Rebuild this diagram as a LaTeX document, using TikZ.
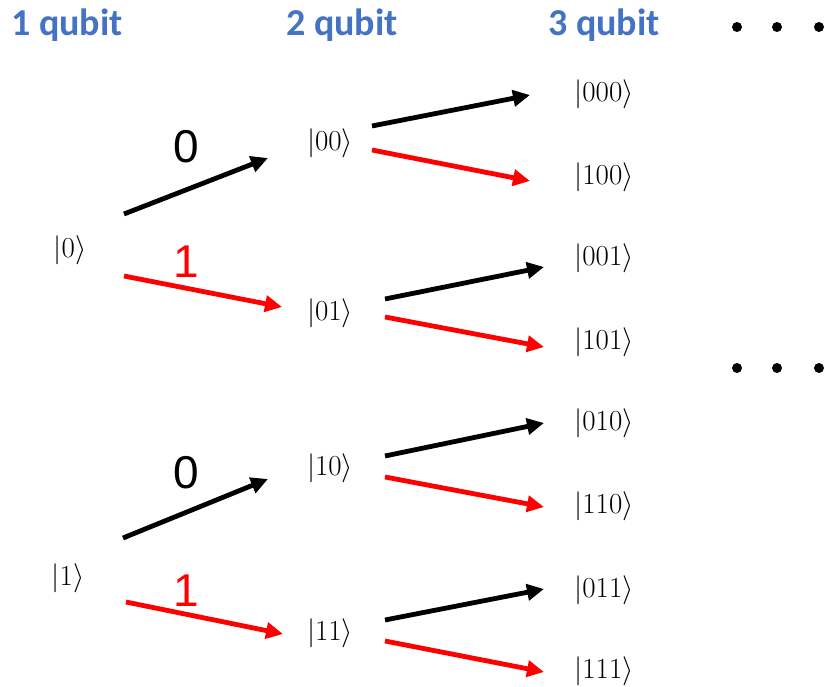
\RequirePackage{fix-cm}
\documentclass[tikz,border=0pt]{standalone}
\usepackage{fontspec}
\usetikzlibrary{arrows.meta}
\newfontfamily\hdrfont{Carlito}
\newfontfamily\lblfont{Liberation Sans}
\definecolor{hdrblue}{RGB}{68,114,196}
\definecolor{arrred}{RGB}{255,0,0}
\tikzset{
  ket/.style={inner sep=0pt, font=\fontsize{29}{34}\selectfont},
  hdr/.style={inner sep=0pt, text=hdrblue, font=\hdrfont\bfseries\fontsize{38}{44}\selectfont},
  bitlbl/.style={inner sep=0pt, font=\lblfont\fontsize{46}{52}\selectfont},
  arr/.style={line width=4.8pt, -{Triangle[length=17pt,width=16pt]}},
  arr0/.style={arr, black},
  arr1/.style={arr, arrred},
  dotmark/.style={circle, fill=black, inner sep=0pt, minimum size=10pt}
}
\begin{document}
\begin{tikzpicture}[x=1pt,y=-1pt]
\useasboundingbox (0,0) rectangle (825,687);
% headers
\node[hdr] (h1) at (67,25) {1 qubit};
\node[hdr] (h2) at (342,25) {2 qubit};
\node[hdr] (h3) at (604,25) {3 qubit};
\node[dotmark] (d1) at (737,27) {};
\node[dotmark] (d2) at (777,27) {};
\node[dotmark] (d3) at (819,27) {};
\node[dotmark] (e1) at (737,368) {};
\node[dotmark] (e2) at (777,368) {};
\node[dotmark] (e3) at (819,368) {};
% kets
\node[ket] (k0) at (70,250) {$|0\rangle$};
\node[ket] (k1) at (68,578) {$|1\rangle$};
\node[ket] (k00) at (330,143) {$|00\rangle$};
\node[ket] (k01) at (330,313) {$|01\rangle$};
\node[ket] (k10) at (330,468) {$|10\rangle$};
\node[ket] (k11) at (330,633) {$|11\rangle$};
\node[ket] (k000) at (604,94) {$|000\rangle$};
\node[ket] (k100) at (604,177) {$|100\rangle$};
\node[ket] (k001) at (604,258) {$|001\rangle$};
\node[ket] (k101) at (604,342) {$|101\rangle$};
\node[ket] (k010) at (604,423) {$|010\rangle$};
\node[ket] (k110) at (604,506) {$|110\rangle$};
\node[ket] (k011) at (604,590) {$|011\rangle$};
\node[ket] (k111) at (604,671) {$|111\rangle$};
% arrow end coordinates
\coordinate (a0s) at (124,214); \coordinate (a0e) at (268,158);
\coordinate (a1s) at (124,276); \coordinate (a1e) at (282,307);
\coordinate (b0s) at (123,538); \coordinate (b0e) at (268,479);
\coordinate (b1s) at (126,602); \coordinate (b1e) at (283,634);
\coordinate (c0s) at (372,126); \coordinate (c0e) at (530,95);
\coordinate (c1s) at (372,150); \coordinate (c1e) at (530,181);
\coordinate (d0s) at (385,299); \coordinate (d0e) at (544,267);
\coordinate (d1s) at (385,317); \coordinate (d1e) at (544,347);
\coordinate (f0s) at (385,456); \coordinate (f0e) at (544,423);
\coordinate (f1s) at (385,477); \coordinate (f1e) at (544,507);
\coordinate (g0s) at (385,620); \coordinate (g0e) at (544,589);
\coordinate (g1s) at (385,641); \coordinate (g1e) at (544,672);
% arrows
\draw[arr0] (a0s) -- (a0e);
\draw[arr1] (a1s) -- (a1e);
\draw[arr0] (b0s) -- (b0e);
\draw[arr1] (b1s) -- (b1e);
\draw[arr0] (c0s) -- (c0e);
\draw[arr1] (c1s) -- (c1e);
\draw[arr0] (d0s) -- (d0e);
\draw[arr1] (d1s) -- (d1e);
\draw[arr0] (f0s) -- (f0e);
\draw[arr1] (f1s) -- (f1e);
\draw[arr0] (g0s) -- (g0e);
\draw[arr1] (g1s) -- (g1e);
% bit labels
\node[bitlbl] (l0a) at (186,147) {0};
\node[bitlbl, text=arrred] (l1a) at (186,262) {1};
\node[bitlbl] (l0b) at (186,473) {0};
\node[bitlbl, text=arrred] (l1b) at (186,591) {1};
\end{tikzpicture}
\end{document}
